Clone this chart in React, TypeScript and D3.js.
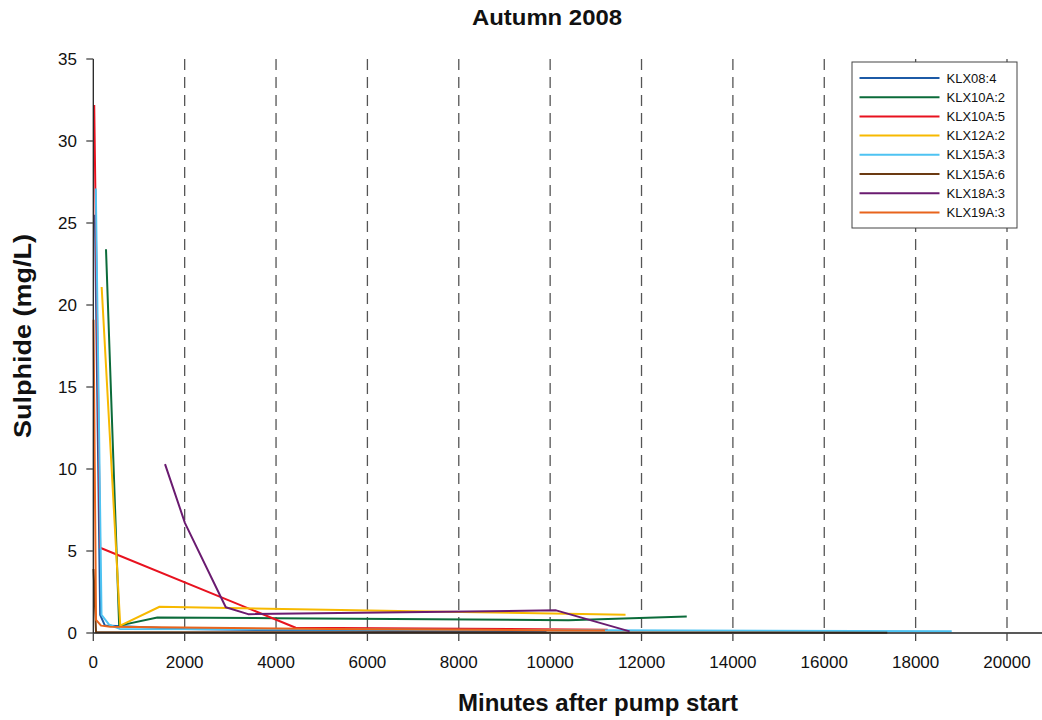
import React from "react";
import * as d3 from "d3";

const title = "Autumn 2008";
const xLabel = "Minutes after pump start";
const yLabel = "Sulphide (mg/L)";
const xTicks = [0, 2000, 4000, 6000, 8000, 10000, 12000, 14000, 16000, 18000, 20000];
const yTicks = [0, 5, 10, 15, 20, 25, 30, 35];
const gridX = [2000, 4000, 6000, 8000, 10000, 12000, 14000, 16000, 18000, 20000];

const seriesNames = ["KLX08:4", "KLX10A:2", "KLX10A:5", "KLX12A:2", "KLX15A:3", "KLX15A:6", "KLX18A:3", "KLX19A:3"];
const seriesColors = ["#1c5aa6", "#0b6b3a", "#e8121f", "#f7b900", "#4ec3f2", "#6b3a12", "#6a1b70", "#e8641c"];

const klx08_4: [number, number][] = [[35, 25.5], [150, 1.1], [255, 0.45], [2000, 0.25], [4000, 0.17], [9920, 0.06]];
const klx10a_2: [number, number][] = [[278, 23.4], [566, 0.45], [1402, 0.95], [4000, 0.9], [10400, 0.78], [12990, 1.0]];
const klx10a_5: [number, number][] = [[20, 32.2], [150, 5.2], [4430, 0.32], [11260, 0.2]];
const klx12a_2: [number, number][] = [[183, 21.1], [590, 0.45], [1450, 1.6], [7000, 1.33], [11650, 1.12]];
const klx15a_3: [number, number][] = [[55, 27.1], [180, 1.1], [350, 0.5], [580, 0.25], [18790, 0.1]];
const klx15a_6: [number, number][] = [[5, 3.9], [60, 0.05], [17380, 0.02]];
const klx18a_3: [number, number][] = [[1570, 10.3], [2007, 6.7], [2900, 1.57], [3390, 1.15], [10130, 1.38], [11740, 0.1]];
const klx19a_3: [number, number][] = [[5, 19.1], [60, 0.8], [170, 0.45], [370, 0.38], [5180, 0.25], [11200, 0.15]];

const seriesData = [klx08_4, klx10a_2, klx10a_5, klx12a_2, klx15a_3, klx15a_6, klx18a_3, klx19a_3];

const W = 1042;
const H = 720;
const left = 93.3;
const right = 1007;
const top = 59;
const bottom = 633;
const font = "Liberation Sans, Arial, sans-serif";

export default function App() {
  const x = d3.scaleLinear().domain([0, 20000]).range([left, right]);
  const y = d3.scaleLinear().domain([0, 35]).range([bottom, top]);
  const line = d3
    .line<[number, number]>()
    .x((d) => x(d[0]))
    .y((d) => y(d[1]));

  const legX = 852;
  const legY = 62;
  const rowH = 19.2;

  return (
    <svg
      width={W}
      height={H}
      style={{ position: "absolute", left: 0, top: 0, display: "block", background: "#fff" }}
      fontFamily={font}
    >
      <rect x={0} y={0} width={W} height={H} fill="#fff" />
      {gridX.map((g) => (
        <line key={g} x1={x(g)} x2={x(g)} y1={top} y2={bottom} stroke="#555" strokeWidth={1.3} strokeDasharray="11,7" />
      ))}
      {seriesData.map((s, i) => (
        <path key={seriesNames[i]} d={line(s) || ""} fill="none" stroke={seriesColors[i]} strokeWidth={2} strokeLinejoin="round" />
      ))}
      <line x1={left} x2={W} y1={bottom} y2={bottom} stroke="#222" strokeWidth={1.3} />
      <line x1={left} x2={left} y1={top} y2={bottom} stroke="#222" strokeWidth={1.3} />
      {xTicks.map((t) => (
        <g key={"x" + t}>
          <line x1={x(t)} x2={x(t)} y1={bottom} y2={bottom + 8} stroke="#444" strokeWidth={1.3} />
          <text x={x(t)} y={668} textAnchor="middle" fontSize={17} fill="#111">
            {t}
          </text>
        </g>
      ))}
      {yTicks.map((t) => (
        <g key={"y" + t}>
          <line x1={left - 7} x2={left} y1={y(t)} y2={y(t)} stroke="#444" strokeWidth={1.3} />
          <text x={77} y={y(t) + 6} textAnchor="end" fontSize={17} fill="#111">
            {t}
          </text>
        </g>
      ))}
      <text x={547} y={25} textAnchor="middle" fontSize={22} fontWeight="bold" fill="#111" textLength={150} lengthAdjust="spacingAndGlyphs">
        {title}
      </text>
      <text x={598} y={711} textAnchor="middle" fontSize={24} fontWeight="bold" fill="#111" textLength={280} lengthAdjust="spacingAndGlyphs">
        {xLabel}
      </text>
      <text
        transform={`translate(31,${336}) rotate(-90)`}
        textAnchor="middle"
        fontSize={24}
        fontWeight="bold"
        fill="#111"
        textLength={204}
        lengthAdjust="spacingAndGlyphs"
      >
        {yLabel}
      </text>
      <rect x={legX} y={legY} width={165} height={166} fill="#fff" stroke="#444" strokeWidth={1} />
      {seriesNames.map((n, i) => (
        <g key={"l" + n}>
          <line x1={859.5} x2={939.5} y1={legY + 16 + i * rowH} y2={legY + 16 + i * rowH} stroke={seriesColors[i]} strokeWidth={2} />
          <text x={946.5} y={legY + 16 + i * rowH + 4.5} fontSize={13} fill="#111">
            {n}
          </text>
        </g>
      ))}
    </svg>
  );
}
